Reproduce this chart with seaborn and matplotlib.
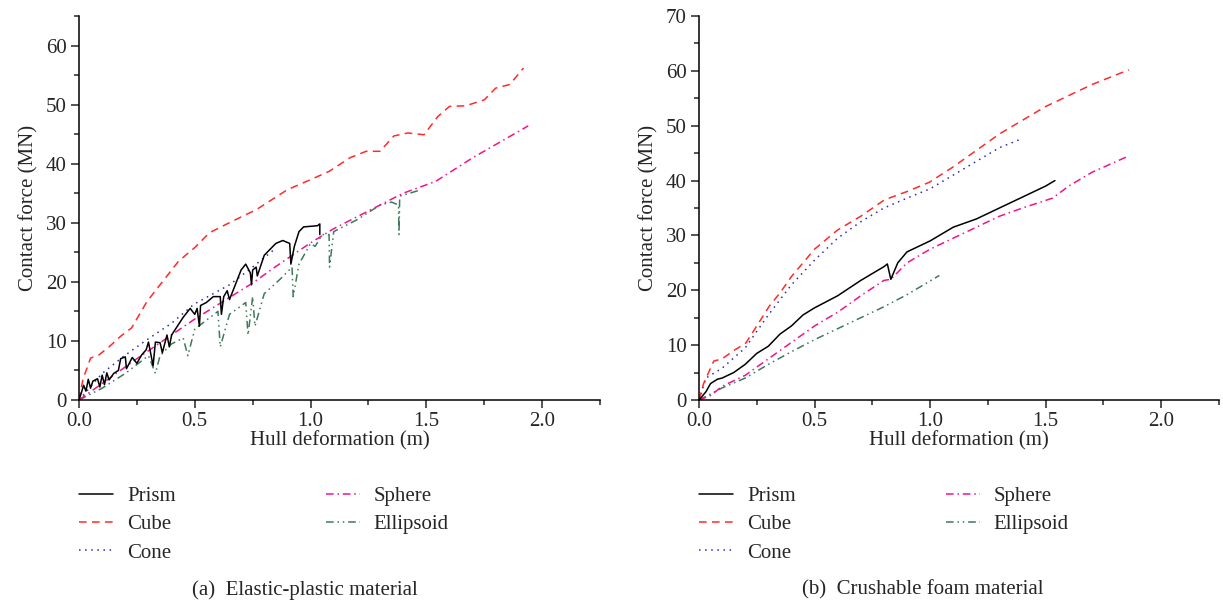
import numpy as np
import pandas as pd
import matplotlib
matplotlib.use("Agg")
import matplotlib.pyplot as plt
import seaborn as sns
from matplotlib.ticker import MultipleLocator
from matplotlib.lines import Line2D

sns.set_style("ticks")
plt.rcParams['font.family'] = ['Liberation Serif', 'DejaVu Serif']
plt.rcParams['font.size'] = 15

# (a) elastic-plastic material
a_prism_x = [0, 0.01, 0.02, 0.03, 0.04, 0.05, 0.06, 0.08, 0.09, 0.1, 0.11, 0.12, 0.13, 0.15, 0.17, 0.18,
             0.2, 0.205, 0.23, 0.25, 0.27, 0.29, 0.3, 0.32, 0.33, 0.35, 0.36, 0.38, 0.39, 0.4, 0.45, 0.48,
             0.5, 0.51, 0.52, 0.525, 0.55, 0.58, 0.61, 0.615, 0.625, 0.64, 0.65, 0.67, 0.7, 0.72, 0.74,
             0.745, 0.75, 0.765, 0.77, 0.8, 0.85, 0.88, 0.91, 0.915, 0.93, 0.95, 0.97, 1.0, 1.03, 1.04, 1.04]
a_prism_y = [0, 1.2, 2.5, 1.5, 3.5, 2.0, 3.2, 3.6, 2.2, 4.2, 2.6, 4.6, 3.4, 4.5, 5.0, 7.0,
             7.3, 5.3, 7.2, 6.2, 7.6, 8.5, 9.8, 5.8, 9.8, 9.7, 8.0, 11.0, 9.0, 11.0, 14.0, 15.5,
             14.5, 15.5, 12.5, 16.0, 16.5, 17.5, 17.5, 14.5, 17.5, 18.5, 17.0, 19.0, 22.0, 23.0, 21.5,
             19.5, 22.0, 22.5, 21.0, 24.5, 26.5, 27.0, 26.5, 23.0, 26.0, 28.5, 29.3, 29.4, 29.5, 29.8, 28.0]
a_cube_x = [0, 0.017, 0.05, 0.085, 0.13, 0.18, 0.227, 0.294, 0.36, 0.43, 0.5, 0.563, 0.664, 0.765,
            0.9, 1.0, 1.08, 1.17, 1.24, 1.3, 1.36, 1.42, 1.49, 1.55, 1.6, 1.67, 1.75, 1.8, 1.86, 1.92]
a_cube_y = [0, 3.5, 7.1, 7.6, 9.0, 10.8, 12.2, 16.7, 20.0, 23.5, 25.8, 28.3, 30.3, 32.2,
            35.6, 37.3, 38.7, 41.0, 42.1, 42.1, 44.7, 45.2, 44.9, 48.0, 49.7, 49.8, 50.8, 52.8, 53.4, 56.2]
a_cone_x = [0, 0.1, 0.193, 0.286, 0.4, 0.496, 0.65, 0.75, 0.85]
a_cone_y = [0, 4.5, 7.4, 10.0, 13.0, 16.2, 19.5, 22.5, 25.7]
a_sphere_x = [0, 0.25, 0.496, 0.75, 0.85, 1.0, 1.1, 1.25, 1.40, 1.54, 1.70, 1.94]
a_sphere_y = [0, 7.0, 13.6, 19.8, 22.6, 26.6, 29.0, 32.0, 35.0, 37.0, 41.0, 46.4]
a_ell_x = [0, 0.1, 0.2, 0.3, 0.33, 0.35, 0.4, 0.45, 0.47, 0.5, 0.55, 0.6, 0.61, 0.65, 0.72, 0.73,
           0.75, 0.76, 0.8, 0.87, 0.92, 0.925, 0.95, 1.0, 1.02, 1.05, 1.08, 1.082, 1.1, 1.2, 1.3,
           1.35, 1.38, 1.382, 1.385, 1.47]
a_ell_y = [0, 2.0, 4.5, 7.5, 4.5, 7.5, 9.5, 10.5, 7.5, 12.0, 13.5, 15.0, 9.0, 14.5, 16.5, 11.0,
           17.5, 12.5, 18.0, 20.5, 22.5, 17.5, 23.0, 26.5, 26.0, 28.0, 28.0, 22.5, 28.5, 30.5, 33.0,
           33.5, 33.0, 28.0, 34.5, 35.5]

# (b) crushable foam material
b_prism_x = [0, 0.03, 0.05, 0.08, 0.1, 0.15, 0.2, 0.25, 0.3, 0.35, 0.4, 0.45, 0.5, 0.6, 0.7, 0.8,
             0.815, 0.83, 0.86, 0.9, 1.0, 1.1, 1.2, 1.3, 1.4, 1.5, 1.54]
b_prism_y = [0, 1.5, 3.0, 3.8, 4.0, 5.0, 6.5, 8.5, 9.8, 12.0, 13.5, 15.5, 16.8, 19.0, 21.8, 24.3,
             24.8, 22.0, 25.0, 27.0, 29.0, 31.5, 33.0, 35.0, 37.0, 39.0, 40.0]
b_cube_x = [0, 0.02, 0.064, 0.1, 0.15, 0.203, 0.25, 0.304, 0.35, 0.4, 0.456, 0.5, 0.6, 0.7, 0.803,
            0.9, 0.997, 1.1, 1.2, 1.3, 1.4, 1.5, 1.6, 1.7, 1.86]
b_cube_y = [0, 3.0, 7.1, 7.5, 9.0, 10.4, 13.5, 17.1, 19.5, 22.5, 25.3, 27.5, 31.0, 33.5, 36.5,
            38.0, 39.7, 42.5, 45.5, 48.5, 51.0, 53.5, 55.5, 57.5, 60.2]
b_cone_x = [0, 0.03, 0.1, 0.2, 0.3, 0.4, 0.5, 0.6, 0.7, 0.8, 0.9, 1.0, 1.1, 1.2, 1.3, 1.383]
b_cone_y = [0, 4.0, 5.8, 9.5, 15.5, 21.0, 25.5, 29.5, 32.5, 35.0, 36.8, 38.5, 41.0, 43.5, 46.0, 47.4]
b_sphere_x = [0, 0.05, 0.1, 0.2, 0.3, 0.4, 0.5, 0.6, 0.7, 0.8, 0.83, 0.9, 1.0, 1.1, 1.2, 1.3, 1.4,
              1.53, 1.6, 1.7, 1.86]
b_sphere_y = [0, 0.8, 2.5, 4.5, 7.5, 10.5, 13.5, 16.0, 19.0, 21.8, 22.0, 25.0, 27.5, 29.5, 31.5,
              33.5, 35.0, 36.8, 39.0, 41.5, 44.5]
b_ell_x = [0, 0.1, 0.2, 0.3, 0.4, 0.5, 0.6, 0.7, 0.8, 0.9, 1.04]
b_ell_y = [0, 2.2, 4.0, 6.5, 8.8, 11.0, 13.0, 15.0, 17.0, 19.2, 22.7]

names = ['Prism', 'Cube', 'Cone', 'Sphere', 'Ellipsoid']
colors = {'Prism': 'black', 'Cube': '#ff2a2a', 'Cone': '#2b2bb0', 'Sphere': '#f0148c', 'Ellipsoid': '#3d7a5a'}
dashes = {'Prism': None, 'Cube': (5, 3.5), 'Cone': (1, 3), 'Sphere': (5, 2.5, 1, 2.5),
          'Ellipsoid': (5, 2.5, 1, 2.5, 1, 2.5)}

panels = [
    {'Prism': (a_prism_x, a_prism_y), 'Cube': (a_cube_x, a_cube_y), 'Cone': (a_cone_x, a_cone_y),
     'Sphere': (a_sphere_x, a_sphere_y), 'Ellipsoid': (a_ell_x, a_ell_y)},
    {'Prism': (b_prism_x, b_prism_y), 'Cube': (b_cube_x, b_cube_y), 'Cone': (b_cone_x, b_cone_y),
     'Sphere': (b_sphere_x, b_sphere_y), 'Ellipsoid': (b_ell_x, b_ell_y)},
]
ymax = [65, 70]
captions = ['(a)  Elastic-plastic material', '(b)  Crushable foam material']
cap_x = [305, 923]

fig = plt.figure(figsize=(12.23, 6.05), dpi=100)
axes = [fig.add_axes([79 / 1223, 1 - 400 / 605, 521 / 1223, 384 / 605]),
        fig.add_axes([699 / 1223, 1 - 400 / 605, 520 / 1223, 384 / 605])]

for i, ax in enumerate(axes):
    data = panels[i]
    # draw the lower curves first so black stays on top
    for name in ['Ellipsoid', 'Sphere', 'Cone', 'Cube', 'Prism']:
        x, y = data[name]
        df = pd.DataFrame({'x': x, 'y': y})
        sns.lineplot(data=df, x='x', y='y', ax=ax, sort=False, estimator=None,
                     color=colors[name], linewidth=1.1)
        if dashes[name] is not None:
            ax.lines[-1].set_dashes(dashes[name])

    ax.set_xlim(0, 2.25)
    ax.set_ylim(0, ymax[i])
    ax.xaxis.set_major_locator(MultipleLocator(0.5))
    ax.xaxis.set_minor_locator(MultipleLocator(0.25))
    ax.yaxis.set_major_locator(MultipleLocator(10))
    ax.yaxis.set_minor_locator(MultipleLocator(5))
    ax.xaxis.set_major_formatter(matplotlib.ticker.FormatStrFormatter('%.1f'))
    ax.tick_params(which='major', direction='out', length=6, width=1.1, labelsize=15, pad=3)
    ax.tick_params(which='minor', direction='out', length=3.5, width=1.1)
    for s in ['top', 'right']:
        ax.spines[s].set_visible(False)
    for s in ['left', 'bottom']:
        ax.spines[s].set_linewidth(1.1)
        ax.spines[s].set_color('black')
    ax.set_xlabel('Hull deformation (m)', fontsize=15, labelpad=0)
    ax.set_ylabel('Contact force (MN)', fontsize=15, labelpad=5)

    handles = []
    for name in names:
        h = Line2D([], [], color=colors[name], linewidth=1.1)
        if dashes[name] is not None:
            h.set_dashes(dashes[name])
        handles.append(h)
    ax.legend(handles, names, ncol=2, loc='upper left', bbox_to_anchor=(0.0, -0.225),
              frameon=False, fontsize=15, handlelength=1.65, handletextpad=0.65,
              columnspacing=7.2, labelspacing=0.42, borderaxespad=0, borderpad=0)

    fig.text(cap_x[i] / 1223, 1 - 590 / 605, captions[i], ha='center', va='center', fontsize=15)

fig.savefig('out.png', dpi=100)
